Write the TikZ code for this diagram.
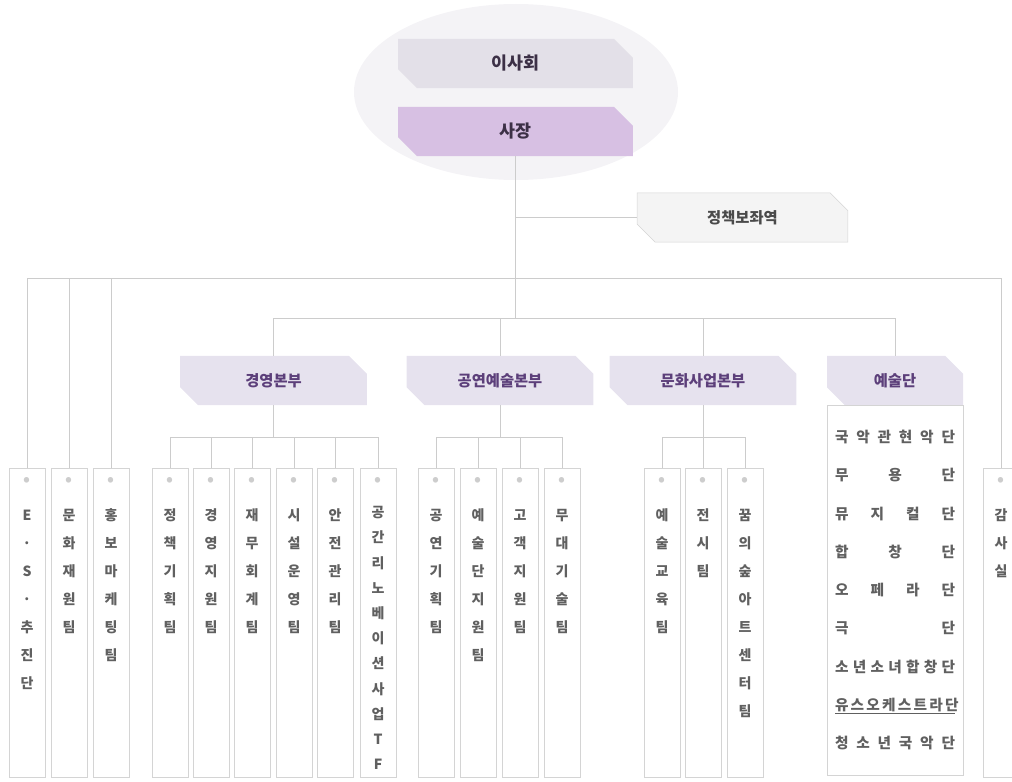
\documentclass[tikz,border=0pt]{standalone}
\usepackage{fontspec}
\setmainfont{Noto Sans CJK KR}
\usetikzlibrary{shapes.misc}

\definecolor{linegray}{HTML}{CCCCCC}
\definecolor{boxgray}{HTML}{D4D4D4}
\definecolor{ovalfill}{HTML}{F4F3F6}
\definecolor{boardfill}{HTML}{E3E0E8}
\definecolor{ceofill}{HTML}{D7C0E3}
\definecolor{topink}{HTML}{3C3046}
\definecolor{divfill}{HTML}{E6E2EE}
\definecolor{divink}{HTML}{5C3F7A}
\definecolor{aidefill}{HTML}{F4F4F4}
\definecolor{aideink}{HTML}{4A4A4A}
\definecolor{teamink}{HTML}{606060}
\definecolor{dotgray}{HTML}{CDCDCD}

\newcommand{\vtext}[2][21pt]{\parbox[t][228pt][t]{27pt}{\centering\fontsize{10.5}{#1}\selectfont\bfseries\rule{0pt}{12pt}\raisebox{1pt}{\color{dotgray}\rule{0pt}{0pt}\fontsize{13}{13}\selectfont •}\\[4pt]#2}}
\newcommand{\spread}[1]{\makebox[90pt][s]{#1}}

\tikzset{
	chbox/.style={chamfered rectangle, chamfered rectangle corners={north east,south west}, chamfered rectangle sep=8pt, inner sep=0pt},
	topbox/.style={chbox, minimum width=176pt, minimum height=37pt, text=topink, font=\fontsize{13}{15}\selectfont\bfseries},
	divbox/.style={chbox, fill=divfill, minimum width=140pt, minimum height=37pt, text=divink, font=\fontsize{11.5}{14}\selectfont\bfseries},
	teambox/.style={draw=boxgray, fill=white, line width=0.75pt, minimum width=27pt, minimum height=232pt, inner sep=0pt, anchor=north, text=teamink},
	link/.style={draw=linegray, line width=0.75pt},
}

\begin{document}
\begin{tikzpicture}[x=0.75pt,y=-0.75pt]
			\useasboundingbox (0,0) rectangle (1012,781);
			\clip (0,0) rectangle (1012,781);

			\fill[ovalfill] (516,92) ellipse [x radius=162, y radius=88];

			\node[topbox, fill=boardfill] (board) at (515.5, 63.5) {이사회};
			\node[topbox, fill=ceofill]   (ceo)   at (515.5,131.5) {사장};
			\node[chbox, fill=aidefill, draw=boxgray, minimum width=158pt, minimum height=37pt, text=aideink, font=\fontsize{11.5}{14}\selectfont\bfseries] (aide) at (742.5,217.5) {정책보좌역};

			\coordinate (sidebus) at (516,278);
			\coordinate (divbus)  at (516,318);
			\coordinate (teambus) at (516,437);

			\node[divbox] (mgmt)   at (273.5,380.5) {경영본부};
			\node[divbox] (perfhq) at (500  ,380.5) {공연예술본부};
			\node[divbox] (culthq) at (703  ,380.5) {문화사업본부};
			\node[divbox, minimum width=102pt] (artgrp) at (895,380.5) {예술단};

			\node[teambox, minimum width=102pt, minimum height=277.5pt] (artlist) at (895,405) {\parbox[t][270pt][t]{90pt}{\fontsize{11}{28.7}\selectfont\bfseries\rule{0pt}{24pt}%
				\spread{국 악 관 현 악 단}\\
				\spread{무 용 단}\\
				\spread{뮤 지 컬 단}\\
				\spread{합 창 단}\\
				\spread{오 페 라 단}\\
				\spread{극 단}\\
				\spread{소 년 소 녀 합 창 단}\\
				\underline{\spread{유 스 오 케 스 트 라 단}}\\
				\spread{청 소 년 국 악 단}}};

			\node[teambox] (es)       at (  27,468) {\vtext{E\\·\\S\\·\\추\\진\\단}};
			\node[teambox] (heritage) at (  69,468) {\vtext{문\\화\\재\\원\\팀}};
			\node[teambox] (promo)    at ( 111,468) {\vtext{홍\\보\\마\\케\\팅\\팀}};
			\node[teambox] (plan)     at ( 170,468) {\vtext{정\\책\\기\\획\\팀}};
			\node[teambox] (support)  at ( 211,468) {\vtext{경\\영\\지\\원\\팀}};
			\node[teambox] (finance)  at ( 252,468) {\vtext{재\\무\\회\\계\\팀}};
			\node[teambox] (facility) at ( 294,468) {\vtext{시\\설\\운\\영\\팀}};
			\node[teambox] (safety)   at ( 335,468) {\vtext{안\\전\\관\\리\\팀}};
			\node[teambox] (tf)       at ( 378,468) {\vtext[18.9pt]{공\\간\\리\\노\\베\\이\\션\\사\\업\\T\\F}};
			\node[teambox] (perf)     at ( 436,468) {\vtext{공\\연\\기\\획\\팀}};
			\node[teambox] (artsup)   at ( 478,468) {\vtext{예\\술\\단\\지\\원\\팀}};
			\node[teambox] (customer) at ( 520,468) {\vtext{고\\객\\지\\원\\팀}};
			\node[teambox] (stage)    at ( 562,468) {\vtext{무\\대\\기\\술\\팀}};
			\node[teambox] (edu)      at ( 662,468) {\vtext{예\\술\\교\\육\\팀}};
			\node[teambox] (exhibit)  at ( 703,468) {\vtext{전\\시\\팀}};
			\node[teambox] (forest)   at ( 745,468) {\vtext{꿈\\의\\숲\\아\\트\\센\\터\\팀}};
			\node[teambox] (audit)    at (1001,468) {\vtext{감\\사\\실}};

			\draw[link] (ceo.south) -- (ceo.south |- divbus);
			\draw[link] (ceo.south |- aide.west) -- (aide.west);

			\draw[link] (es.north) -- (es.north |- sidebus) -- (audit.north |- sidebus) -- (audit.north);
			\draw[link] (heritage.north) -- (heritage.north |- sidebus);
			\draw[link] (promo.north) -- (promo.north |- sidebus);

			\draw[link] (mgmt.north) -- (mgmt.north |- divbus) -- (artgrp.north |- divbus) -- (artgrp.north);
			\draw[link] (perfhq.north) -- (perfhq.north |- divbus);
			\draw[link] (culthq.north) -- (culthq.north |- divbus);

			\draw[link] (mgmt.south) -- (mgmt.south |- teambus);
			\draw[link] (plan.north) -- (plan.north |- teambus) -- (tf.north |- teambus) -- (tf.north);
			\draw[link] (support.north) -- (support.north |- teambus);
			\draw[link] (finance.north) -- (finance.north |- teambus);
			\draw[link] (facility.north) -- (facility.north |- teambus);
			\draw[link] (safety.north) -- (safety.north |- teambus);

			\draw[link] (perfhq.south) -- (perfhq.south |- teambus);
			\draw[link] (perf.north) -- (perf.north |- teambus) -- (stage.north |- teambus) -- (stage.north);
			\draw[link] (artsup.north) -- (artsup.north |- teambus);
			\draw[link] (customer.north) -- (customer.north |- teambus);

			\draw[link] (culthq.south) -- (culthq.south |- teambus);
			\draw[link] (edu.north) -- (edu.north |- teambus) -- (forest.north |- teambus) -- (forest.north);
			\draw[link] (exhibit.north) -- (exhibit.north |- teambus);
\end{tikzpicture}
\end{document}
